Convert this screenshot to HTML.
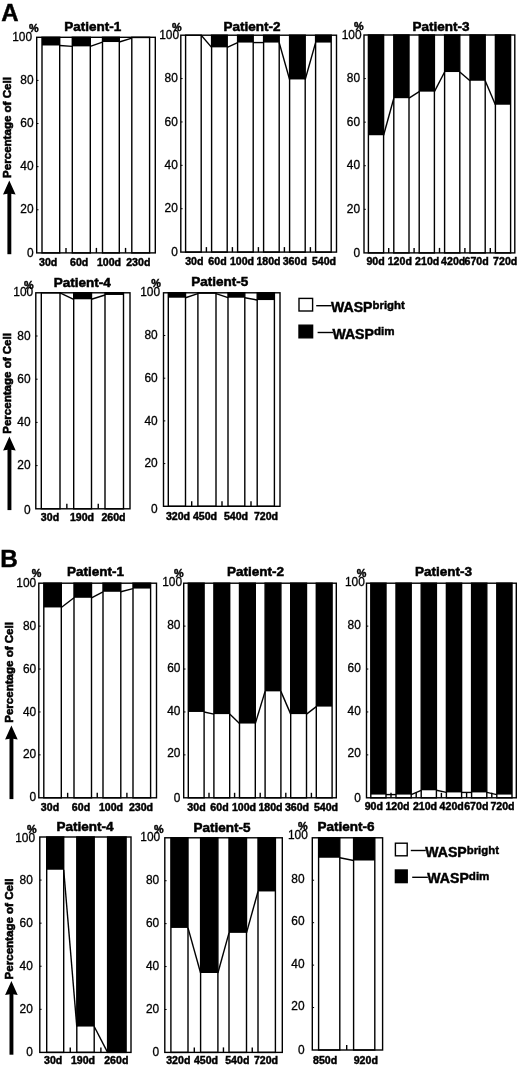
<!DOCTYPE html>
<html lang="en">
<head>
<meta charset="utf-8">
<title>WASP bright / WASP dim percentage of cells</title>
<style>
html,body{margin:0;padding:0;background:#fff;}
body{width:520px;height:1067px;overflow:hidden;}
svg{display:block;font-family:"Liberation Sans", Arial, Helvetica, sans-serif;fill:#000;}
svg text{fill:#000;stroke:#000;stroke-width:0.3px;}
svg text[font-weight=bold]{stroke-width:0.45px;}
</style>
</head>
<body>
<svg width="520" height="1067" viewBox="0 0 520 1067">
<rect x="0" y="0" width="520" height="1067" fill="#fff"/>
<rect x="36.7" y="37.3" width="118.6" height="215.6" fill="#fff" stroke="#000" stroke-width="1.4"/>
<text x="32" y="40.9" text-anchor="end" font-size="11.9">100</text>
<text x="33.5" y="84.02" text-anchor="end" font-size="11.9">80</text>
<line x1="36.7" y1="80.42" x2="38.5" y2="80.42" stroke="#000" stroke-width="1"/>
<text x="33.5" y="127.14" text-anchor="end" font-size="11.9">60</text>
<line x1="36.7" y1="123.54" x2="38.5" y2="123.54" stroke="#000" stroke-width="1"/>
<text x="33.5" y="170.26" text-anchor="end" font-size="11.9">40</text>
<line x1="36.7" y1="166.66" x2="38.5" y2="166.66" stroke="#000" stroke-width="1"/>
<text x="33.5" y="213.38" text-anchor="end" font-size="11.9">20</text>
<line x1="36.7" y1="209.78" x2="38.5" y2="209.78" stroke="#000" stroke-width="1"/>
<text x="33.5" y="256.5" text-anchor="end" font-size="11.9">0</text>
<text x="33.8" y="31.5" text-anchor="middle" font-size="10.8" font-weight="bold">%</text>
<rect x="42" y="37.3" width="17.7" height="8.19" fill="#000"/>
<rect x="42" y="37.3" width="17.7" height="215.6" fill="none" stroke="#000" stroke-width="1.4"/>
<rect x="72.3" y="37.3" width="18" height="9.06" fill="#000"/>
<rect x="72.3" y="37.3" width="18" height="215.6" fill="none" stroke="#000" stroke-width="1.4"/>
<rect x="102.5" y="37.3" width="16.8" height="4.74" fill="#000"/>
<rect x="102.5" y="37.3" width="16.8" height="215.6" fill="none" stroke="#000" stroke-width="1.4"/>
<rect x="131.8" y="37.3" width="17.8" height="0.86" fill="#000"/>
<rect x="131.8" y="37.3" width="17.8" height="215.6" fill="none" stroke="#000" stroke-width="1.4"/>
<line x1="59.7" y1="45.49" x2="72.3" y2="46.36" stroke="#000" stroke-width="1.4"/>
<line x1="66" y1="252.9" x2="66" y2="247.9" stroke="#000" stroke-width="1.4"/>
<line x1="90.3" y1="46.36" x2="102.5" y2="42.04" stroke="#000" stroke-width="1.4"/>
<line x1="96.4" y1="252.9" x2="96.4" y2="247.9" stroke="#000" stroke-width="1.4"/>
<line x1="119.3" y1="42.04" x2="131.8" y2="38.16" stroke="#000" stroke-width="1.4"/>
<line x1="125.55" y1="252.9" x2="125.55" y2="247.9" stroke="#000" stroke-width="1.4"/>
<text x="48.2" y="265.6" text-anchor="middle" font-size="10.6" font-weight="bold">30d</text>
<text x="79.2" y="265.6" text-anchor="middle" font-size="10.6" font-weight="bold">60d</text>
<text x="109" y="265.6" text-anchor="middle" font-size="10.6" font-weight="bold">100d</text>
<text x="138.3" y="265.6" text-anchor="middle" font-size="10.6" font-weight="bold">230d</text>
<text x="92.8" y="31.2" text-anchor="middle" font-size="13.5" font-weight="bold" style="stroke-width:0.55px">Patient-1</text>
<rect x="180.8" y="35.2" width="155.7" height="216.9" fill="#fff" stroke="#000" stroke-width="1.4"/>
<text x="179" y="38.8" text-anchor="end" font-size="11.9">100</text>
<text x="177.8" y="82.18" text-anchor="end" font-size="11.9">80</text>
<line x1="180.8" y1="78.58" x2="182.6" y2="78.58" stroke="#000" stroke-width="1"/>
<text x="177.8" y="125.56" text-anchor="end" font-size="11.9">60</text>
<line x1="180.8" y1="121.96" x2="182.6" y2="121.96" stroke="#000" stroke-width="1"/>
<text x="177.8" y="168.94" text-anchor="end" font-size="11.9">40</text>
<line x1="180.8" y1="165.34" x2="182.6" y2="165.34" stroke="#000" stroke-width="1"/>
<text x="177.8" y="212.32" text-anchor="end" font-size="11.9">20</text>
<line x1="180.8" y1="208.72" x2="182.6" y2="208.72" stroke="#000" stroke-width="1"/>
<text x="177.8" y="255.7" text-anchor="end" font-size="11.9">0</text>
<text x="176.7" y="30.9" text-anchor="middle" font-size="10.8" font-weight="bold">%</text>
<rect x="185.6" y="35.2" width="15.6" height="216.9" fill="none" stroke="#000" stroke-width="1.4"/>
<rect x="211.6" y="35.2" width="15.6" height="12.15" fill="#000"/>
<rect x="211.6" y="35.2" width="15.6" height="216.9" fill="none" stroke="#000" stroke-width="1.4"/>
<rect x="237.6" y="35.2" width="15.6" height="7.37" fill="#000"/>
<rect x="237.6" y="35.2" width="15.6" height="216.9" fill="none" stroke="#000" stroke-width="1.4"/>
<rect x="263.6" y="35.2" width="15.6" height="7.37" fill="#000"/>
<rect x="263.6" y="35.2" width="15.6" height="216.9" fill="none" stroke="#000" stroke-width="1.4"/>
<rect x="289.6" y="35.2" width="15.6" height="44.25" fill="#000"/>
<rect x="289.6" y="35.2" width="15.6" height="216.9" fill="none" stroke="#000" stroke-width="1.4"/>
<rect x="315.6" y="35.2" width="15.6" height="7.37" fill="#000"/>
<rect x="315.6" y="35.2" width="15.6" height="216.9" fill="none" stroke="#000" stroke-width="1.4"/>
<line x1="201.2" y1="35.2" x2="211.6" y2="47.35" stroke="#000" stroke-width="1.4"/>
<line x1="206.4" y1="252.1" x2="206.4" y2="247.1" stroke="#000" stroke-width="1.4"/>
<line x1="227.2" y1="47.35" x2="237.6" y2="42.57" stroke="#000" stroke-width="1.4"/>
<line x1="232.4" y1="252.1" x2="232.4" y2="247.1" stroke="#000" stroke-width="1.4"/>
<line x1="253.2" y1="42.57" x2="263.6" y2="42.57" stroke="#000" stroke-width="1.4"/>
<line x1="258.4" y1="252.1" x2="258.4" y2="247.1" stroke="#000" stroke-width="1.4"/>
<line x1="279.2" y1="42.57" x2="289.6" y2="79.45" stroke="#000" stroke-width="1.4"/>
<line x1="284.4" y1="252.1" x2="284.4" y2="247.1" stroke="#000" stroke-width="1.4"/>
<line x1="305.2" y1="79.45" x2="315.6" y2="42.57" stroke="#000" stroke-width="1.4"/>
<line x1="310.4" y1="252.1" x2="310.4" y2="247.1" stroke="#000" stroke-width="1.4"/>
<text x="194.3" y="265" text-anchor="middle" font-size="10.6" font-weight="bold">30d</text>
<text x="217.5" y="265" text-anchor="middle" font-size="10.6" font-weight="bold">60d</text>
<text x="242" y="265" text-anchor="middle" font-size="10.6" font-weight="bold">100d</text>
<text x="268.5" y="265" text-anchor="middle" font-size="10.6" font-weight="bold">180d</text>
<text x="294.8" y="265" text-anchor="middle" font-size="10.6" font-weight="bold">360d</text>
<text x="324" y="265" text-anchor="middle" font-size="10.6" font-weight="bold">540d</text>
<text x="252" y="30.8" text-anchor="middle" font-size="13.5" font-weight="bold" style="stroke-width:0.55px">Patient-2</text>
<rect x="364" y="35" width="150.8" height="217.9" fill="#fff" stroke="#000" stroke-width="1.4"/>
<text x="361.5" y="38.8" text-anchor="end" font-size="11.9">100</text>
<text x="360" y="82.18" text-anchor="end" font-size="11.9">80</text>
<line x1="364" y1="78.58" x2="365.8" y2="78.58" stroke="#000" stroke-width="1"/>
<text x="360" y="125.76" text-anchor="end" font-size="11.9">60</text>
<line x1="364" y1="122.16" x2="365.8" y2="122.16" stroke="#000" stroke-width="1"/>
<text x="360" y="169.34" text-anchor="end" font-size="11.9">40</text>
<line x1="364" y1="165.74" x2="365.8" y2="165.74" stroke="#000" stroke-width="1"/>
<text x="360" y="212.92" text-anchor="end" font-size="11.9">20</text>
<line x1="364" y1="209.32" x2="365.8" y2="209.32" stroke="#000" stroke-width="1"/>
<text x="360" y="256.5" text-anchor="end" font-size="11.9">0</text>
<text x="358.8" y="30.4" text-anchor="middle" font-size="10.8" font-weight="bold">%</text>
<rect x="368.4" y="35" width="15.2" height="100.23" fill="#000"/>
<rect x="368.4" y="35" width="15.2" height="217.9" fill="none" stroke="#000" stroke-width="1.4"/>
<rect x="393.8" y="35" width="15.2" height="63.19" fill="#000"/>
<rect x="393.8" y="35" width="15.2" height="217.9" fill="none" stroke="#000" stroke-width="1.4"/>
<rect x="419.2" y="35" width="15.2" height="56.65" fill="#000"/>
<rect x="419.2" y="35" width="15.2" height="217.9" fill="none" stroke="#000" stroke-width="1.4"/>
<rect x="444.6" y="35" width="15.2" height="37.04" fill="#000"/>
<rect x="444.6" y="35" width="15.2" height="217.9" fill="none" stroke="#000" stroke-width="1.4"/>
<rect x="470" y="35" width="15.2" height="45.76" fill="#000"/>
<rect x="470" y="35" width="15.2" height="217.9" fill="none" stroke="#000" stroke-width="1.4"/>
<rect x="495.4" y="35" width="15.2" height="69.73" fill="#000"/>
<rect x="495.4" y="35" width="15.2" height="217.9" fill="none" stroke="#000" stroke-width="1.4"/>
<line x1="383.6" y1="135.23" x2="393.8" y2="98.19" stroke="#000" stroke-width="1.4"/>
<line x1="388.7" y1="252.9" x2="388.7" y2="247.9" stroke="#000" stroke-width="1.4"/>
<line x1="409" y1="98.19" x2="419.2" y2="91.65" stroke="#000" stroke-width="1.4"/>
<line x1="414.1" y1="252.9" x2="414.1" y2="247.9" stroke="#000" stroke-width="1.4"/>
<line x1="434.4" y1="91.65" x2="444.6" y2="72.04" stroke="#000" stroke-width="1.4"/>
<line x1="439.5" y1="252.9" x2="439.5" y2="247.9" stroke="#000" stroke-width="1.4"/>
<line x1="459.8" y1="72.04" x2="470" y2="80.76" stroke="#000" stroke-width="1.4"/>
<line x1="464.9" y1="252.9" x2="464.9" y2="247.9" stroke="#000" stroke-width="1.4"/>
<line x1="485.2" y1="80.76" x2="495.4" y2="104.73" stroke="#000" stroke-width="1.4"/>
<line x1="490.3" y1="252.9" x2="490.3" y2="247.9" stroke="#000" stroke-width="1.4"/>
<text x="375.6" y="265" text-anchor="middle" font-size="10.6" font-weight="bold">90d</text>
<text x="399.8" y="265" text-anchor="middle" font-size="10.6" font-weight="bold">120d</text>
<text x="427.2" y="265" text-anchor="middle" font-size="10.6" font-weight="bold">210d</text>
<text x="453.2" y="265" text-anchor="middle" font-size="10.6" font-weight="bold">420d</text>
<text x="476.6" y="265" text-anchor="middle" font-size="10.6" font-weight="bold">670d</text>
<text x="505.2" y="265" text-anchor="middle" font-size="10.6" font-weight="bold">720d</text>
<text x="441" y="31.2" text-anchor="middle" font-size="13.5" font-weight="bold" style="stroke-width:0.55px">Patient-3</text>
<rect x="7.4" y="192.9" width="3.9" height="61.3" fill="#000"/>
<path d="M9.3 180.6 L15.6 194.6 L9.3 193.6 L3 194.6 Z" fill="#000"/>
<text transform="translate(11.2 177.9) rotate(-90)" font-size="11.55" font-weight="bold" style="stroke-width:0.6px">Percentage of Cell</text>
<text x="1.2" y="21.3" font-size="24" font-weight="bold">A</text>
<rect x="35.8" y="292.8" width="94.2" height="216" fill="#fff" stroke="#000" stroke-width="1.4"/>
<text x="33.2" y="296.4" text-anchor="end" font-size="11.9">100</text>
<text x="30.6" y="339.6" text-anchor="end" font-size="11.9">80</text>
<line x1="35.8" y1="336" x2="37.6" y2="336" stroke="#000" stroke-width="1"/>
<text x="30.6" y="382.8" text-anchor="end" font-size="11.9">60</text>
<line x1="35.8" y1="379.2" x2="37.6" y2="379.2" stroke="#000" stroke-width="1"/>
<text x="30.6" y="426" text-anchor="end" font-size="11.9">40</text>
<line x1="35.8" y1="422.4" x2="37.6" y2="422.4" stroke="#000" stroke-width="1"/>
<text x="30.6" y="469.2" text-anchor="end" font-size="11.9">20</text>
<line x1="35.8" y1="465.6" x2="37.6" y2="465.6" stroke="#000" stroke-width="1"/>
<text x="30.6" y="513.7" text-anchor="end" font-size="11.9">0</text>
<text x="28.9" y="289" text-anchor="middle" font-size="10.8" font-weight="bold">%</text>
<rect x="41.3" y="292.8" width="18.7" height="216" fill="none" stroke="#000" stroke-width="1.4"/>
<rect x="73.7" y="292.8" width="17.8" height="6.48" fill="#000"/>
<rect x="73.7" y="292.8" width="17.8" height="216" fill="none" stroke="#000" stroke-width="1.4"/>
<rect x="105" y="292.8" width="18.5" height="2.16" fill="#000"/>
<rect x="105" y="292.8" width="18.5" height="216" fill="none" stroke="#000" stroke-width="1.4"/>
<line x1="60" y1="292.8" x2="73.7" y2="299.28" stroke="#000" stroke-width="1.4"/>
<line x1="66.85" y1="508.8" x2="66.85" y2="503.8" stroke="#000" stroke-width="1.4"/>
<line x1="91.5" y1="299.28" x2="105" y2="294.96" stroke="#000" stroke-width="1.4"/>
<line x1="98.25" y1="508.8" x2="98.25" y2="503.8" stroke="#000" stroke-width="1.4"/>
<text x="50" y="521" text-anchor="middle" font-size="10.6" font-weight="bold">30d</text>
<text x="82" y="521" text-anchor="middle" font-size="10.6" font-weight="bold">190d</text>
<text x="113.5" y="521" text-anchor="middle" font-size="10.6" font-weight="bold">260d</text>
<text x="82.2" y="287" text-anchor="middle" font-size="13.5" font-weight="bold" style="stroke-width:0.55px">Patient-4</text>
<rect x="163.5" y="292.8" width="116.5" height="213.5" fill="#fff" stroke="#000" stroke-width="1.4"/>
<text x="160.1" y="296.4" text-anchor="end" font-size="11.9">100</text>
<text x="157.7" y="339.1" text-anchor="end" font-size="11.9">80</text>
<line x1="163.5" y1="335.5" x2="165.3" y2="335.5" stroke="#000" stroke-width="1"/>
<text x="157.7" y="381.8" text-anchor="end" font-size="11.9">60</text>
<line x1="163.5" y1="378.2" x2="165.3" y2="378.2" stroke="#000" stroke-width="1"/>
<text x="157.7" y="424.5" text-anchor="end" font-size="11.9">40</text>
<line x1="163.5" y1="420.9" x2="165.3" y2="420.9" stroke="#000" stroke-width="1"/>
<text x="157.7" y="467.2" text-anchor="end" font-size="11.9">20</text>
<line x1="163.5" y1="463.6" x2="165.3" y2="463.6" stroke="#000" stroke-width="1"/>
<text x="157.7" y="513.2" text-anchor="end" font-size="11.9">0</text>
<text x="156.1" y="286.9" text-anchor="middle" font-size="10.8" font-weight="bold">%</text>
<rect x="168.3" y="292.8" width="17.2" height="4.91" fill="#000"/>
<rect x="168.3" y="292.8" width="17.2" height="213.5" fill="none" stroke="#000" stroke-width="1.4"/>
<rect x="197.9" y="292.8" width="18.1" height="0.85" fill="#000"/>
<rect x="197.9" y="292.8" width="18.1" height="213.5" fill="none" stroke="#000" stroke-width="1.4"/>
<rect x="228" y="292.8" width="16.8" height="4.91" fill="#000"/>
<rect x="228" y="292.8" width="16.8" height="213.5" fill="none" stroke="#000" stroke-width="1.4"/>
<rect x="257.2" y="292.8" width="17.2" height="7.26" fill="#000"/>
<rect x="257.2" y="292.8" width="17.2" height="213.5" fill="none" stroke="#000" stroke-width="1.4"/>
<line x1="185.5" y1="297.71" x2="197.9" y2="293.65" stroke="#000" stroke-width="1.4"/>
<line x1="191.7" y1="506.3" x2="191.7" y2="501.3" stroke="#000" stroke-width="1.4"/>
<line x1="216" y1="293.65" x2="228" y2="297.71" stroke="#000" stroke-width="1.4"/>
<line x1="222" y1="506.3" x2="222" y2="501.3" stroke="#000" stroke-width="1.4"/>
<line x1="244.8" y1="297.71" x2="257.2" y2="300.06" stroke="#000" stroke-width="1.4"/>
<line x1="251" y1="506.3" x2="251" y2="501.3" stroke="#000" stroke-width="1.4"/>
<text x="178" y="520.4" text-anchor="middle" font-size="10.6" font-weight="bold">320d</text>
<text x="205" y="520.4" text-anchor="middle" font-size="10.6" font-weight="bold">450d</text>
<text x="236" y="520.4" text-anchor="middle" font-size="10.6" font-weight="bold">540d</text>
<text x="266" y="520.4" text-anchor="middle" font-size="10.6" font-weight="bold">720d</text>
<text x="219.8" y="286" text-anchor="middle" font-size="13.5" font-weight="bold" style="stroke-width:0.55px">Patient-5</text>
<rect x="7.5" y="448.8" width="3.9" height="61.3" fill="#000"/>
<path d="M9.4 436.5 L15.7 450.5 L9.4 449.5 L3.1 450.5 Z" fill="#000"/>
<text transform="translate(11.3 433.8) rotate(-90)" font-size="11.55" font-weight="bold" style="stroke-width:0.6px">Percentage of Cell</text>
<rect x="299" y="298.4" width="13.6" height="12.6" fill="#fff" stroke="#000" stroke-width="1.4"/>
<rect x="299" y="325.2" width="13.6" height="12.6" fill="#000" stroke="#000" stroke-width="1.4"/>
<line x1="316.2" y1="305.7" x2="331.6" y2="305.7" stroke="#000" stroke-width="1.4"/>
<line x1="317.6" y1="332.5" x2="333" y2="332.5" stroke="#000" stroke-width="1.4"/>
<text x="331" y="312.3" font-size="14.1" font-weight="bold">WASP<tspan font-size="11.4" dy="-3">bright</tspan></text>
<text x="332.4" y="338.5" font-size="14.1" font-weight="bold">WASP<tspan font-size="11.6" dy="-3.1">dim</tspan></text>
<rect x="38.8" y="583.2" width="117.7" height="214.6" fill="#fff" stroke="#000" stroke-width="1.4"/>
<text x="36.2" y="586.8" text-anchor="end" font-size="11.9">100</text>
<text x="36.2" y="629.72" text-anchor="end" font-size="11.9">80</text>
<line x1="38.8" y1="626.12" x2="40.6" y2="626.12" stroke="#000" stroke-width="1"/>
<text x="36.2" y="672.64" text-anchor="end" font-size="11.9">60</text>
<line x1="38.8" y1="669.04" x2="40.6" y2="669.04" stroke="#000" stroke-width="1"/>
<text x="36.2" y="715.56" text-anchor="end" font-size="11.9">40</text>
<line x1="38.8" y1="711.96" x2="40.6" y2="711.96" stroke="#000" stroke-width="1"/>
<text x="36.2" y="758.48" text-anchor="end" font-size="11.9">20</text>
<line x1="38.8" y1="754.88" x2="40.6" y2="754.88" stroke="#000" stroke-width="1"/>
<text x="36.2" y="801.4" text-anchor="end" font-size="11.9">0</text>
<text x="36.5" y="577.3" text-anchor="middle" font-size="10.8" font-weight="bold">%</text>
<rect x="43.8" y="583.2" width="17.5" height="24.25" fill="#000"/>
<rect x="43.8" y="583.2" width="17.5" height="214.6" fill="none" stroke="#000" stroke-width="1.4"/>
<rect x="74" y="583.2" width="17.5" height="14.59" fill="#000"/>
<rect x="74" y="583.2" width="17.5" height="214.6" fill="none" stroke="#000" stroke-width="1.4"/>
<rect x="103" y="583.2" width="17.8" height="8.58" fill="#000"/>
<rect x="103" y="583.2" width="17.8" height="214.6" fill="none" stroke="#000" stroke-width="1.4"/>
<rect x="133" y="583.2" width="17.6" height="5.37" fill="#000"/>
<rect x="133" y="583.2" width="17.6" height="214.6" fill="none" stroke="#000" stroke-width="1.4"/>
<line x1="61.3" y1="607.45" x2="74" y2="597.79" stroke="#000" stroke-width="1.4"/>
<line x1="67.65" y1="797.8" x2="67.65" y2="792.8" stroke="#000" stroke-width="1.4"/>
<line x1="91.5" y1="597.79" x2="103" y2="591.78" stroke="#000" stroke-width="1.4"/>
<line x1="97.25" y1="797.8" x2="97.25" y2="792.8" stroke="#000" stroke-width="1.4"/>
<line x1="120.8" y1="591.78" x2="133" y2="588.57" stroke="#000" stroke-width="1.4"/>
<line x1="126.9" y1="797.8" x2="126.9" y2="792.8" stroke="#000" stroke-width="1.4"/>
<text x="50" y="811.4" text-anchor="middle" font-size="10.6" font-weight="bold">30d</text>
<text x="81" y="811.4" text-anchor="middle" font-size="10.6" font-weight="bold">60d</text>
<text x="111" y="811.4" text-anchor="middle" font-size="10.6" font-weight="bold">100d</text>
<text x="141" y="811.4" text-anchor="middle" font-size="10.6" font-weight="bold">230d</text>
<text x="95.5" y="576.3" text-anchor="middle" font-size="13.5" font-weight="bold" style="stroke-width:0.55px">Patient-1</text>
<rect x="183.7" y="583.2" width="152.6" height="214.6" fill="#fff" stroke="#000" stroke-width="1.4"/>
<text x="182" y="585.8" text-anchor="end" font-size="11.9">100</text>
<text x="180.4" y="628.72" text-anchor="end" font-size="11.9">80</text>
<line x1="183.7" y1="626.12" x2="185.5" y2="626.12" stroke="#000" stroke-width="1"/>
<text x="180.4" y="671.64" text-anchor="end" font-size="11.9">60</text>
<line x1="183.7" y1="669.04" x2="185.5" y2="669.04" stroke="#000" stroke-width="1"/>
<text x="180.4" y="714.56" text-anchor="end" font-size="11.9">40</text>
<line x1="183.7" y1="711.96" x2="185.5" y2="711.96" stroke="#000" stroke-width="1"/>
<text x="180.4" y="757.48" text-anchor="end" font-size="11.9">20</text>
<line x1="183.7" y1="754.88" x2="185.5" y2="754.88" stroke="#000" stroke-width="1"/>
<text x="180.4" y="802.4" text-anchor="end" font-size="11.9">0</text>
<text x="178.7" y="577" text-anchor="middle" font-size="10.8" font-weight="bold">%</text>
<rect x="188.3" y="583.2" width="15.8" height="128.76" fill="#000"/>
<rect x="188.3" y="583.2" width="15.8" height="214.6" fill="none" stroke="#000" stroke-width="1.4"/>
<rect x="213.9" y="583.2" width="15.8" height="130.91" fill="#000"/>
<rect x="213.9" y="583.2" width="15.8" height="214.6" fill="none" stroke="#000" stroke-width="1.4"/>
<rect x="239.5" y="583.2" width="15.8" height="140.35" fill="#000"/>
<rect x="239.5" y="583.2" width="15.8" height="214.6" fill="none" stroke="#000" stroke-width="1.4"/>
<rect x="265.1" y="583.2" width="15.8" height="108.16" fill="#000"/>
<rect x="265.1" y="583.2" width="15.8" height="214.6" fill="none" stroke="#000" stroke-width="1.4"/>
<rect x="290.7" y="583.2" width="15.8" height="130.91" fill="#000"/>
<rect x="290.7" y="583.2" width="15.8" height="214.6" fill="none" stroke="#000" stroke-width="1.4"/>
<rect x="316.3" y="583.2" width="15.8" height="123.39" fill="#000"/>
<rect x="316.3" y="583.2" width="15.8" height="214.6" fill="none" stroke="#000" stroke-width="1.4"/>
<line x1="204.1" y1="711.96" x2="213.9" y2="714.11" stroke="#000" stroke-width="1.4"/>
<line x1="209" y1="797.8" x2="209" y2="792.8" stroke="#000" stroke-width="1.4"/>
<line x1="229.7" y1="714.11" x2="239.5" y2="723.55" stroke="#000" stroke-width="1.4"/>
<line x1="234.6" y1="797.8" x2="234.6" y2="792.8" stroke="#000" stroke-width="1.4"/>
<line x1="255.3" y1="723.55" x2="265.1" y2="691.36" stroke="#000" stroke-width="1.4"/>
<line x1="260.2" y1="797.8" x2="260.2" y2="792.8" stroke="#000" stroke-width="1.4"/>
<line x1="280.9" y1="691.36" x2="290.7" y2="714.11" stroke="#000" stroke-width="1.4"/>
<line x1="285.8" y1="797.8" x2="285.8" y2="792.8" stroke="#000" stroke-width="1.4"/>
<line x1="306.5" y1="714.11" x2="316.3" y2="706.6" stroke="#000" stroke-width="1.4"/>
<line x1="311.4" y1="797.8" x2="311.4" y2="792.8" stroke="#000" stroke-width="1.4"/>
<text x="196.5" y="811.4" text-anchor="middle" font-size="10.6" font-weight="bold">30d</text>
<text x="219.5" y="811.4" text-anchor="middle" font-size="10.6" font-weight="bold">60d</text>
<text x="244" y="811.4" text-anchor="middle" font-size="10.6" font-weight="bold">100d</text>
<text x="270.5" y="811.4" text-anchor="middle" font-size="10.6" font-weight="bold">180d</text>
<text x="297" y="811.4" text-anchor="middle" font-size="10.6" font-weight="bold">360d</text>
<text x="326" y="811.4" text-anchor="middle" font-size="10.6" font-weight="bold">540d</text>
<text x="255.5" y="576.3" text-anchor="middle" font-size="13.5" font-weight="bold" style="stroke-width:0.55px">Patient-2</text>
<rect x="366.5" y="583.2" width="149.8" height="214.6" fill="#fff" stroke="#000" stroke-width="1.4"/>
<text x="364.8" y="585.8" text-anchor="end" font-size="11.9">100</text>
<text x="360.8" y="628.72" text-anchor="end" font-size="11.9">80</text>
<line x1="366.5" y1="626.12" x2="368.3" y2="626.12" stroke="#000" stroke-width="1"/>
<text x="360.8" y="671.64" text-anchor="end" font-size="11.9">60</text>
<line x1="366.5" y1="669.04" x2="368.3" y2="669.04" stroke="#000" stroke-width="1"/>
<text x="360.8" y="714.56" text-anchor="end" font-size="11.9">40</text>
<line x1="366.5" y1="711.96" x2="368.3" y2="711.96" stroke="#000" stroke-width="1"/>
<text x="360.8" y="757.48" text-anchor="end" font-size="11.9">20</text>
<line x1="366.5" y1="754.88" x2="368.3" y2="754.88" stroke="#000" stroke-width="1"/>
<text x="360.8" y="802.4" text-anchor="end" font-size="11.9">0</text>
<text x="361.5" y="577" text-anchor="middle" font-size="10.8" font-weight="bold">%</text>
<rect x="370.8" y="583.2" width="15.2" height="211.38" fill="#000"/>
<rect x="370.8" y="583.2" width="15.2" height="214.6" fill="none" stroke="#000" stroke-width="1.4"/>
<rect x="396" y="583.2" width="15.2" height="211.38" fill="#000"/>
<rect x="396" y="583.2" width="15.2" height="214.6" fill="none" stroke="#000" stroke-width="1.4"/>
<rect x="421.2" y="583.2" width="15.2" height="207.09" fill="#000"/>
<rect x="421.2" y="583.2" width="15.2" height="214.6" fill="none" stroke="#000" stroke-width="1.4"/>
<rect x="446.4" y="583.2" width="15.2" height="209.23" fill="#000"/>
<rect x="446.4" y="583.2" width="15.2" height="214.6" fill="none" stroke="#000" stroke-width="1.4"/>
<rect x="471.6" y="583.2" width="15.2" height="209.23" fill="#000"/>
<rect x="471.6" y="583.2" width="15.2" height="214.6" fill="none" stroke="#000" stroke-width="1.4"/>
<rect x="496.8" y="583.2" width="15.2" height="211.38" fill="#000"/>
<rect x="496.8" y="583.2" width="15.2" height="214.6" fill="none" stroke="#000" stroke-width="1.4"/>
<line x1="386" y1="794.58" x2="396" y2="794.58" stroke="#000" stroke-width="1.4"/>
<line x1="391" y1="797.8" x2="391" y2="792.8" stroke="#000" stroke-width="1.4"/>
<line x1="411.2" y1="794.58" x2="421.2" y2="790.29" stroke="#000" stroke-width="1.4"/>
<line x1="416.2" y1="797.8" x2="416.2" y2="792.8" stroke="#000" stroke-width="1.4"/>
<line x1="436.4" y1="790.29" x2="446.4" y2="792.43" stroke="#000" stroke-width="1.4"/>
<line x1="441.4" y1="797.8" x2="441.4" y2="792.8" stroke="#000" stroke-width="1.4"/>
<line x1="461.6" y1="792.43" x2="471.6" y2="792.43" stroke="#000" stroke-width="1.4"/>
<line x1="466.6" y1="797.8" x2="466.6" y2="792.8" stroke="#000" stroke-width="1.4"/>
<line x1="486.8" y1="792.43" x2="496.8" y2="794.58" stroke="#000" stroke-width="1.4"/>
<line x1="491.8" y1="797.8" x2="491.8" y2="792.8" stroke="#000" stroke-width="1.4"/>
<text x="373.8" y="809.7" text-anchor="middle" font-size="10.6" font-weight="bold">90d</text>
<text x="397.5" y="809.7" text-anchor="middle" font-size="10.6" font-weight="bold">120d</text>
<text x="425" y="809.7" text-anchor="middle" font-size="10.6" font-weight="bold">210d</text>
<text x="451.7" y="809.7" text-anchor="middle" font-size="10.6" font-weight="bold">420d</text>
<text x="476.3" y="809.7" text-anchor="middle" font-size="10.6" font-weight="bold">670d</text>
<text x="502.5" y="809.7" text-anchor="middle" font-size="10.6" font-weight="bold">720d</text>
<text x="443.5" y="576.3" text-anchor="middle" font-size="13.5" font-weight="bold" style="stroke-width:0.55px">Patient-3</text>
<rect x="9.5" y="737.8" width="3.9" height="61.3" fill="#000"/>
<path d="M11.4 725.5 L17.7 739.5 L11.4 738.5 L5.1 739.5 Z" fill="#000"/>
<text transform="translate(13.3 722.8) rotate(-90)" font-size="11.55" font-weight="bold" style="stroke-width:0.6px">Percentage of Cell</text>
<text x="0.3" y="566.7" font-size="24.3" font-weight="bold">B</text>
<rect x="39.8" y="837" width="91.2" height="215.4" fill="#fff" stroke="#000" stroke-width="1.4"/>
<text x="35" y="842.1" text-anchor="end" font-size="11.9">100</text>
<text x="32.8" y="883.68" text-anchor="end" font-size="11.9">80</text>
<line x1="39.8" y1="880.08" x2="41.6" y2="880.08" stroke="#000" stroke-width="1"/>
<text x="32.8" y="926.76" text-anchor="end" font-size="11.9">60</text>
<line x1="39.8" y1="923.16" x2="41.6" y2="923.16" stroke="#000" stroke-width="1"/>
<text x="32.8" y="969.84" text-anchor="end" font-size="11.9">40</text>
<line x1="39.8" y1="966.24" x2="41.6" y2="966.24" stroke="#000" stroke-width="1"/>
<text x="32.8" y="1012.92" text-anchor="end" font-size="11.9">20</text>
<line x1="39.8" y1="1009.32" x2="41.6" y2="1009.32" stroke="#000" stroke-width="1"/>
<text x="32.8" y="1056" text-anchor="end" font-size="11.9">0</text>
<text x="31.7" y="832.9" text-anchor="middle" font-size="10.8" font-weight="bold">%</text>
<rect x="46.7" y="837" width="17" height="32.74" fill="#000"/>
<rect x="46.7" y="837" width="17" height="215.4" fill="none" stroke="#000" stroke-width="1.4"/>
<rect x="76.8" y="837" width="17.4" height="189.55" fill="#000"/>
<rect x="76.8" y="837" width="17.4" height="215.4" fill="none" stroke="#000" stroke-width="1.4"/>
<rect x="107.6" y="837" width="18.5" height="215.4" fill="#000"/>
<rect x="107.6" y="837" width="18.5" height="215.4" fill="none" stroke="#000" stroke-width="1.4"/>
<line x1="63.7" y1="869.74" x2="76.8" y2="1026.55" stroke="#000" stroke-width="1.4"/>
<line x1="70.25" y1="1052.4" x2="70.25" y2="1047.4" stroke="#000" stroke-width="1.4"/>
<line x1="94.2" y1="1026.55" x2="107.6" y2="1052.4" stroke="#000" stroke-width="1.4"/>
<line x1="100.9" y1="1052.4" x2="100.9" y2="1047.4" stroke="#000" stroke-width="1.4"/>
<text x="53.2" y="1064.4" text-anchor="middle" font-size="10.6" font-weight="bold">30d</text>
<text x="83" y="1064.4" text-anchor="middle" font-size="10.6" font-weight="bold">190d</text>
<text x="116.3" y="1064.4" text-anchor="middle" font-size="10.6" font-weight="bold">260d</text>
<text x="85" y="831" text-anchor="middle" font-size="13.5" font-weight="bold" style="stroke-width:0.55px">Patient-4</text>
<rect x="164.8" y="837.8" width="117.5" height="214.6" fill="#fff" stroke="#000" stroke-width="1.4"/>
<text x="160.2" y="841.4" text-anchor="end" font-size="11.9">100</text>
<text x="159.2" y="884.32" text-anchor="end" font-size="11.9">80</text>
<line x1="164.8" y1="880.72" x2="166.6" y2="880.72" stroke="#000" stroke-width="1"/>
<text x="159.2" y="927.24" text-anchor="end" font-size="11.9">60</text>
<line x1="164.8" y1="923.64" x2="166.6" y2="923.64" stroke="#000" stroke-width="1"/>
<text x="159.2" y="970.16" text-anchor="end" font-size="11.9">40</text>
<line x1="164.8" y1="966.56" x2="166.6" y2="966.56" stroke="#000" stroke-width="1"/>
<text x="159.2" y="1013.08" text-anchor="end" font-size="11.9">20</text>
<line x1="164.8" y1="1009.48" x2="166.6" y2="1009.48" stroke="#000" stroke-width="1"/>
<text x="159.2" y="1056" text-anchor="end" font-size="11.9">0</text>
<text x="158.9" y="832.6" text-anchor="middle" font-size="10.8" font-weight="bold">%</text>
<rect x="170.9" y="837.8" width="17.1" height="90.13" fill="#000"/>
<rect x="170.9" y="837.8" width="17.1" height="214.6" fill="none" stroke="#000" stroke-width="1.4"/>
<rect x="200.6" y="837.8" width="17.3" height="135.2" fill="#000"/>
<rect x="200.6" y="837.8" width="17.3" height="214.6" fill="none" stroke="#000" stroke-width="1.4"/>
<rect x="229" y="837.8" width="17.5" height="95.07" fill="#000"/>
<rect x="229" y="837.8" width="17.5" height="214.6" fill="none" stroke="#000" stroke-width="1.4"/>
<rect x="258" y="837.8" width="17.4" height="53.65" fill="#000"/>
<rect x="258" y="837.8" width="17.4" height="214.6" fill="none" stroke="#000" stroke-width="1.4"/>
<line x1="188" y1="927.93" x2="200.6" y2="973" stroke="#000" stroke-width="1.4"/>
<line x1="194.3" y1="1052.4" x2="194.3" y2="1047.4" stroke="#000" stroke-width="1.4"/>
<line x1="217.9" y1="973" x2="229" y2="932.87" stroke="#000" stroke-width="1.4"/>
<line x1="223.45" y1="1052.4" x2="223.45" y2="1047.4" stroke="#000" stroke-width="1.4"/>
<line x1="246.5" y1="932.87" x2="258" y2="891.45" stroke="#000" stroke-width="1.4"/>
<line x1="252.25" y1="1052.4" x2="252.25" y2="1047.4" stroke="#000" stroke-width="1.4"/>
<text x="178.3" y="1064.4" text-anchor="middle" font-size="10.6" font-weight="bold">320d</text>
<text x="206" y="1064.4" text-anchor="middle" font-size="10.6" font-weight="bold">450d</text>
<text x="237.3" y="1064.4" text-anchor="middle" font-size="10.6" font-weight="bold">540d</text>
<text x="266" y="1064.4" text-anchor="middle" font-size="10.6" font-weight="bold">720d</text>
<text x="222" y="831.5" text-anchor="middle" font-size="13.5" font-weight="bold" style="stroke-width:0.55px">Patient-5</text>
<rect x="312.3" y="837.8" width="70.3" height="212.2" fill="#fff" stroke="#000" stroke-width="1.4"/>
<text x="307.8" y="838.6" text-anchor="end" font-size="11.9">100</text>
<text x="304.5" y="882.84" text-anchor="end" font-size="11.9">80</text>
<line x1="312.3" y1="880.24" x2="314.1" y2="880.24" stroke="#000" stroke-width="1"/>
<text x="304.5" y="925.28" text-anchor="end" font-size="11.9">60</text>
<line x1="312.3" y1="922.68" x2="314.1" y2="922.68" stroke="#000" stroke-width="1"/>
<text x="304.5" y="967.72" text-anchor="end" font-size="11.9">40</text>
<line x1="312.3" y1="965.12" x2="314.1" y2="965.12" stroke="#000" stroke-width="1"/>
<text x="304.5" y="1010.16" text-anchor="end" font-size="11.9">20</text>
<line x1="312.3" y1="1007.56" x2="314.1" y2="1007.56" stroke="#000" stroke-width="1"/>
<text x="304.5" y="1053.6" text-anchor="end" font-size="11.9">0</text>
<text x="302.8" y="830.3" text-anchor="middle" font-size="10.8" font-weight="bold">%</text>
<rect x="318.6" y="837.8" width="21.2" height="19.95" fill="#000"/>
<rect x="318.6" y="837.8" width="21.2" height="212.2" fill="none" stroke="#000" stroke-width="1.4"/>
<rect x="353.6" y="837.8" width="21.2" height="22.71" fill="#000"/>
<rect x="353.6" y="837.8" width="21.2" height="212.2" fill="none" stroke="#000" stroke-width="1.4"/>
<line x1="339.8" y1="857.75" x2="353.6" y2="860.51" stroke="#000" stroke-width="1.4"/>
<line x1="346.7" y1="1050" x2="346.7" y2="1045" stroke="#000" stroke-width="1.4"/>
<text x="325.1" y="1063.8" text-anchor="middle" font-size="10.6" font-weight="bold">850d</text>
<text x="365.8" y="1063.8" text-anchor="middle" font-size="10.6" font-weight="bold">920d</text>
<text x="345.9" y="831.3" text-anchor="middle" font-size="13.5" font-weight="bold" style="stroke-width:0.55px">Patient-6</text>
<rect x="9.5" y="993.4" width="3.9" height="61.3" fill="#000"/>
<path d="M11.4 981.1 L17.7 995.1 L11.4 994.1 L5.1 995.1 Z" fill="#000"/>
<text transform="translate(13.3 979.4) rotate(-90)" font-size="11.55" font-weight="bold" style="stroke-width:0.6px">Percentage of Cell</text>
<rect x="395.4" y="843.2" width="11.8" height="12.6" fill="#fff" stroke="#000" stroke-width="1.4"/>
<rect x="395.4" y="870" width="11.8" height="12.6" fill="#000" stroke="#000" stroke-width="1.4"/>
<line x1="410.8" y1="850.5" x2="425.8" y2="850.5" stroke="#000" stroke-width="1.4"/>
<line x1="412.2" y1="877.3" x2="427.9" y2="877.3" stroke="#000" stroke-width="1.4"/>
<text x="425.2" y="857.1" font-size="14.1" font-weight="bold">WASP<tspan font-size="11.4" dy="-3">bright</tspan></text>
<text x="427.3" y="883.3" font-size="14.1" font-weight="bold">WASP<tspan font-size="11.6" dy="-3.1">dim</tspan></text>
</svg>
</body>
</html>
